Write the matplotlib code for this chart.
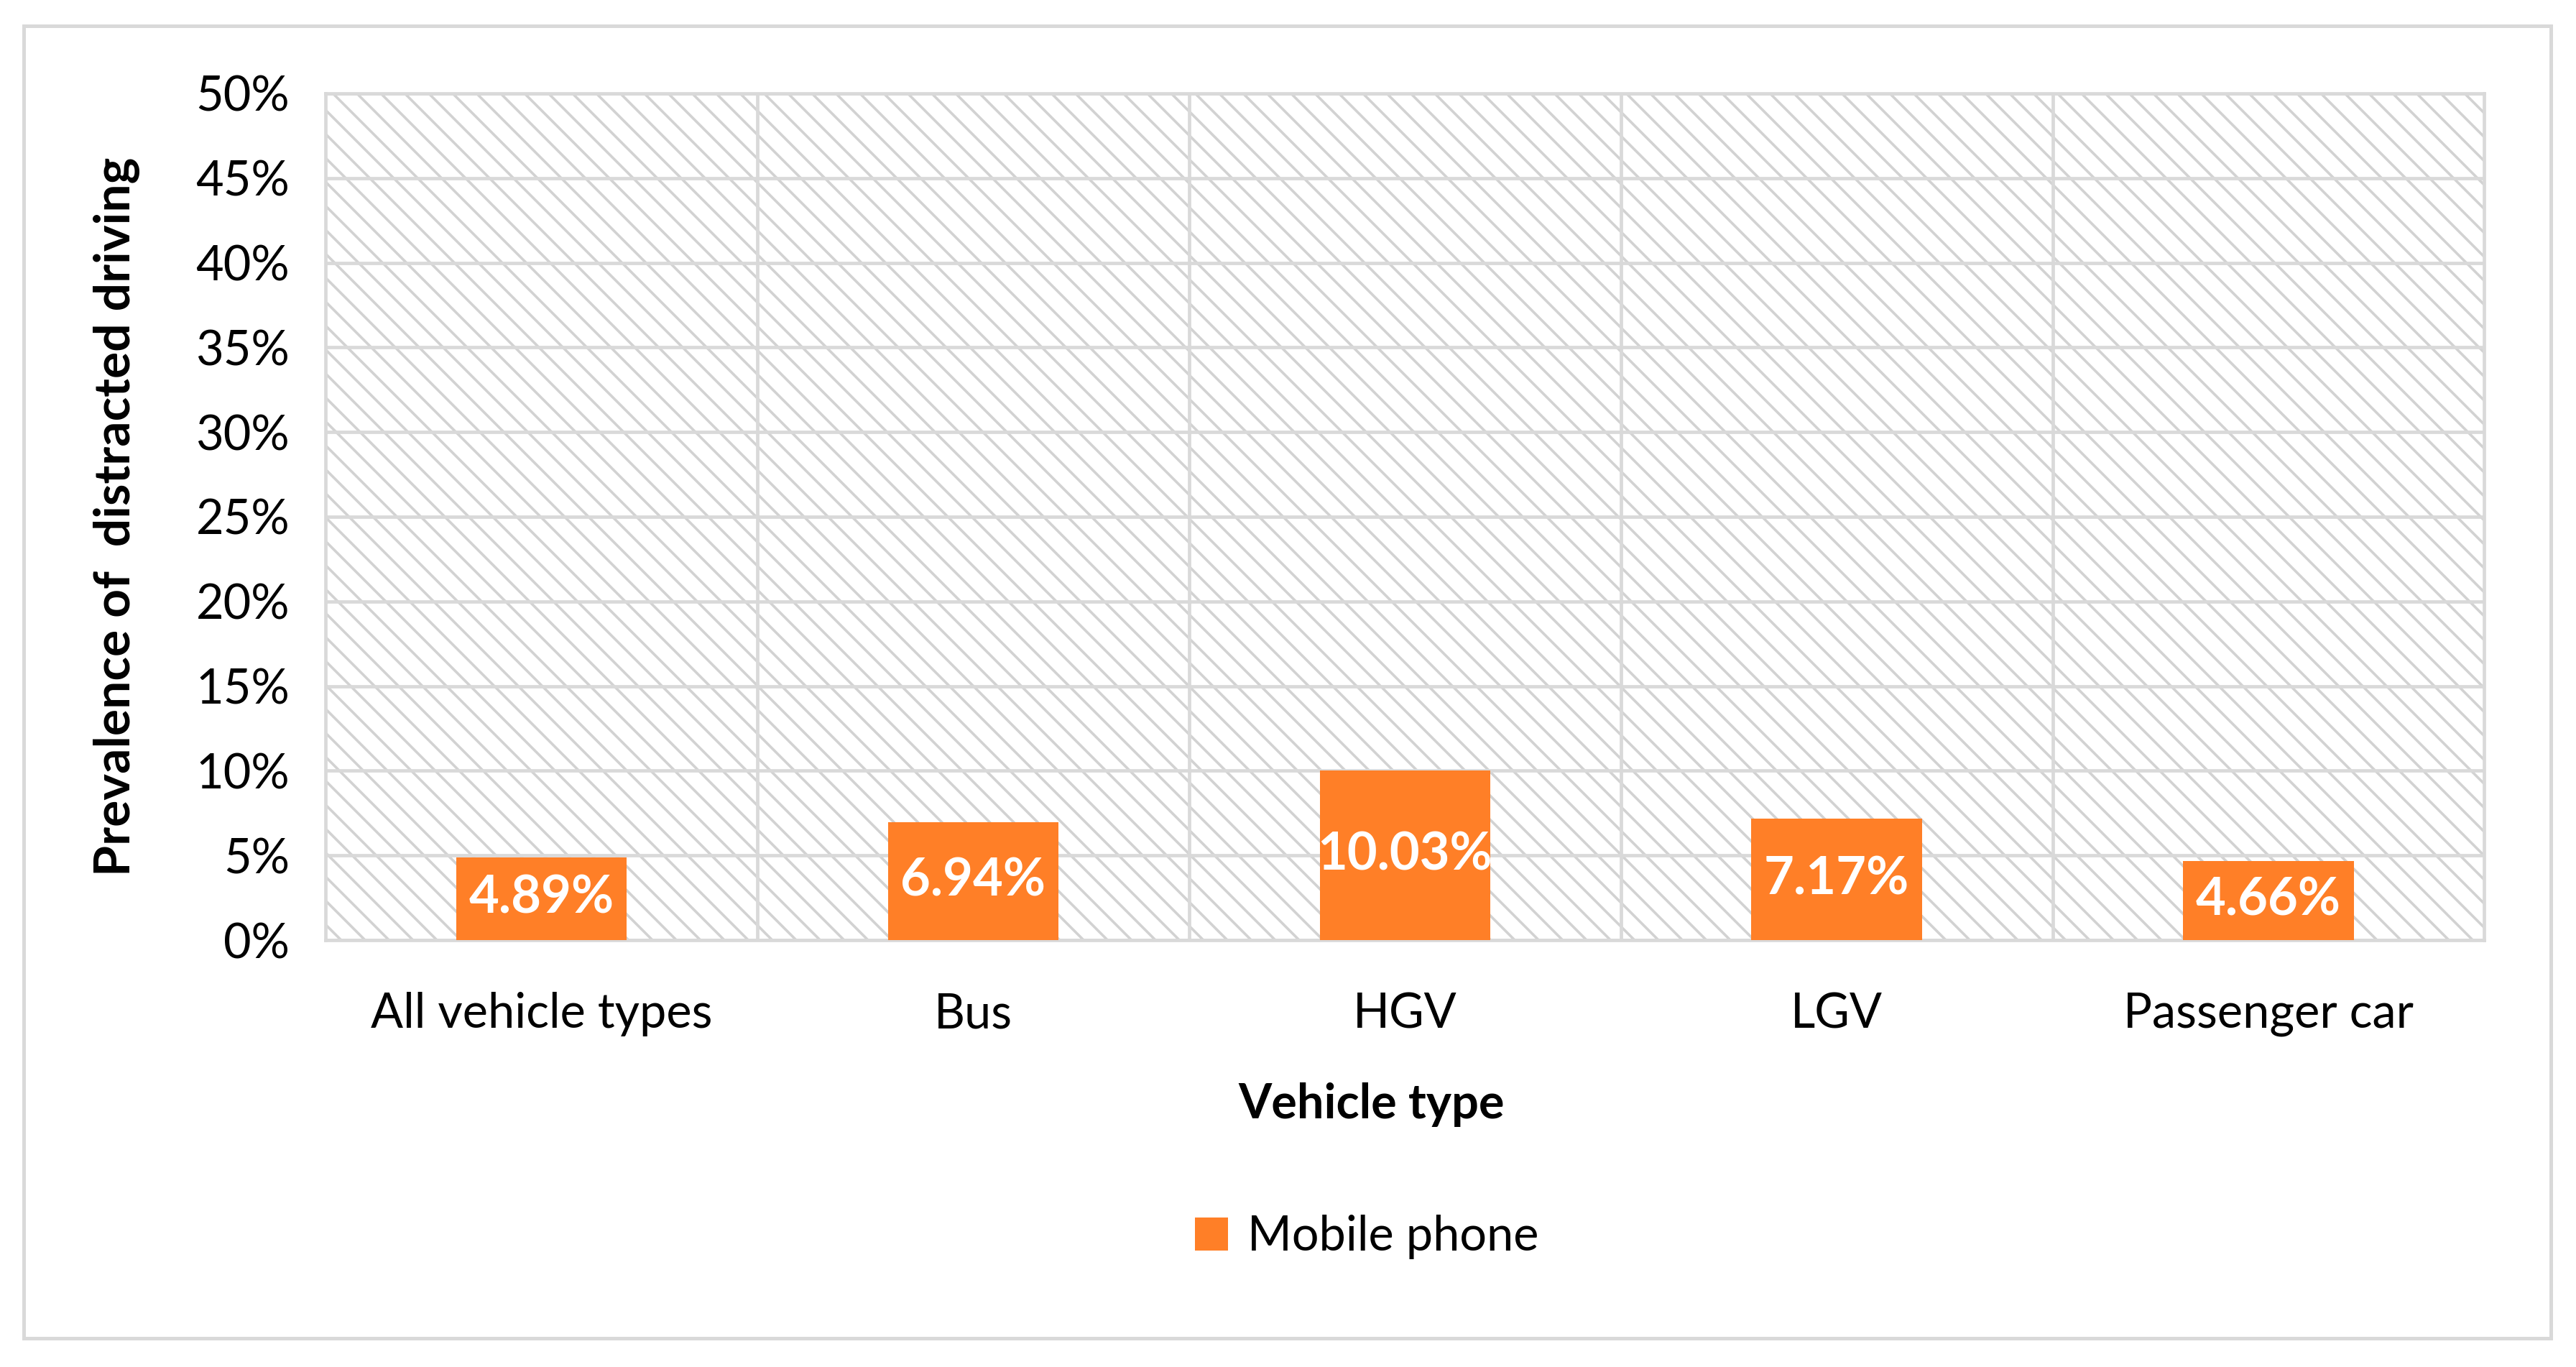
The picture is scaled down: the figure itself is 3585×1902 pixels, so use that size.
import matplotlib
matplotlib.use("Agg")
import matplotlib.pyplot as plt
from matplotlib.patches import Rectangle
from matplotlib.ticker import FixedLocator, PercentFormatter

VEHICLE_TYPES = ["All vehicle types", "Bus", "HGV", "LGV", "Passenger car"]
MOBILE_PHONE = [4.89, 6.94, 10.03, 7.17, 4.66]
Y_TICKS = [0, 5, 10, 15, 20, 25, 30, 35, 40, 45, 50]

BAR_COLOR = "#FF7F27"
GRID_COLOR = "#D9D9D9"
HATCH_COLOR = "#D2D2D2"

plt.rcParams["font.family"] = ["Lato", "DejaVu Sans"]
plt.rcParams["hatch.linewidth"] = 1.3
plt.rcParams["hatch.color"] = HATCH_COLOR

fig = plt.figure(figsize=(17.925, 9.51), dpi=200)

# outer chart border
fig.patches.append(Rectangle((0.0092, 0.021), 0.981, 0.960, transform=fig.transFigure,
                             fill=False, edgecolor=GRID_COLOR, linewidth=1.8, zorder=0))

ax = fig.add_axes([0.1264, 0.3123, 0.838, 0.6194])

x = list(range(len(VEHICLE_TYPES)))
ax.set_xlim(-0.5, len(VEHICLE_TYPES) - 0.5)
ax.set_ylim(0, 50)

# hatched plot area background
ax.add_patch(Rectangle((0, 0), 1, 1, transform=ax.transAxes, facecolor="white",
                       edgecolor=HATCH_COLOR, hatch="\\\\", linewidth=0, zorder=0))

bars = ax.bar(x, MOBILE_PHONE, width=0.395, color=BAR_COLOR, zorder=3, label="Mobile phone")

for b, v in zip(bars, MOBILE_PHONE):
    ax.text(b.get_x() + b.get_width() / 2, v / 2, f"{v:.2f}%", ha="center", va="center",
            color="white", fontsize=26, fontweight="bold", zorder=4)

ax.yaxis.set_major_locator(FixedLocator(Y_TICKS))
ax.yaxis.set_major_formatter(PercentFormatter(decimals=0))
ax.set_xticks(x)
ax.set_xticklabels(VEHICLE_TYPES)
ax.xaxis.set_minor_locator(FixedLocator([i + 0.5 for i in x[:-1]]))

ax.grid(axis="y", which="major", color=GRID_COLOR, linewidth=1.7, zorder=1)
ax.grid(axis="x", which="minor", color=GRID_COLOR, linewidth=1.7, zorder=1)
ax.set_axisbelow(True)
for s in ax.spines.values():
    s.set_color(GRID_COLOR)
    s.set_linewidth(1.7)

ax.tick_params(axis="both", which="both", length=0, labelsize=24, colors="#000000")
ax.tick_params(axis="y", pad=18)
ax.tick_params(axis="x", pad=26)

ax.set_ylabel("Prevalence of  distracted driving", fontsize=25, fontweight="bold", labelpad=28)
ax.set_xlabel("Vehicle type", fontsize=24, fontweight="bold")
ax.xaxis.set_label_coords(0.4846, -0.194)
ax.xaxis.label.set_va("center")

fig.legend(handles=[bars], labels=["Mobile phone"], loc="center", bbox_to_anchor=(0.5306, 0.095),
           frameon=False, fontsize=24, handlelength=0.7, handleheight=0.7, handletextpad=0.4)

fig.savefig("out.png", dpi=200)
